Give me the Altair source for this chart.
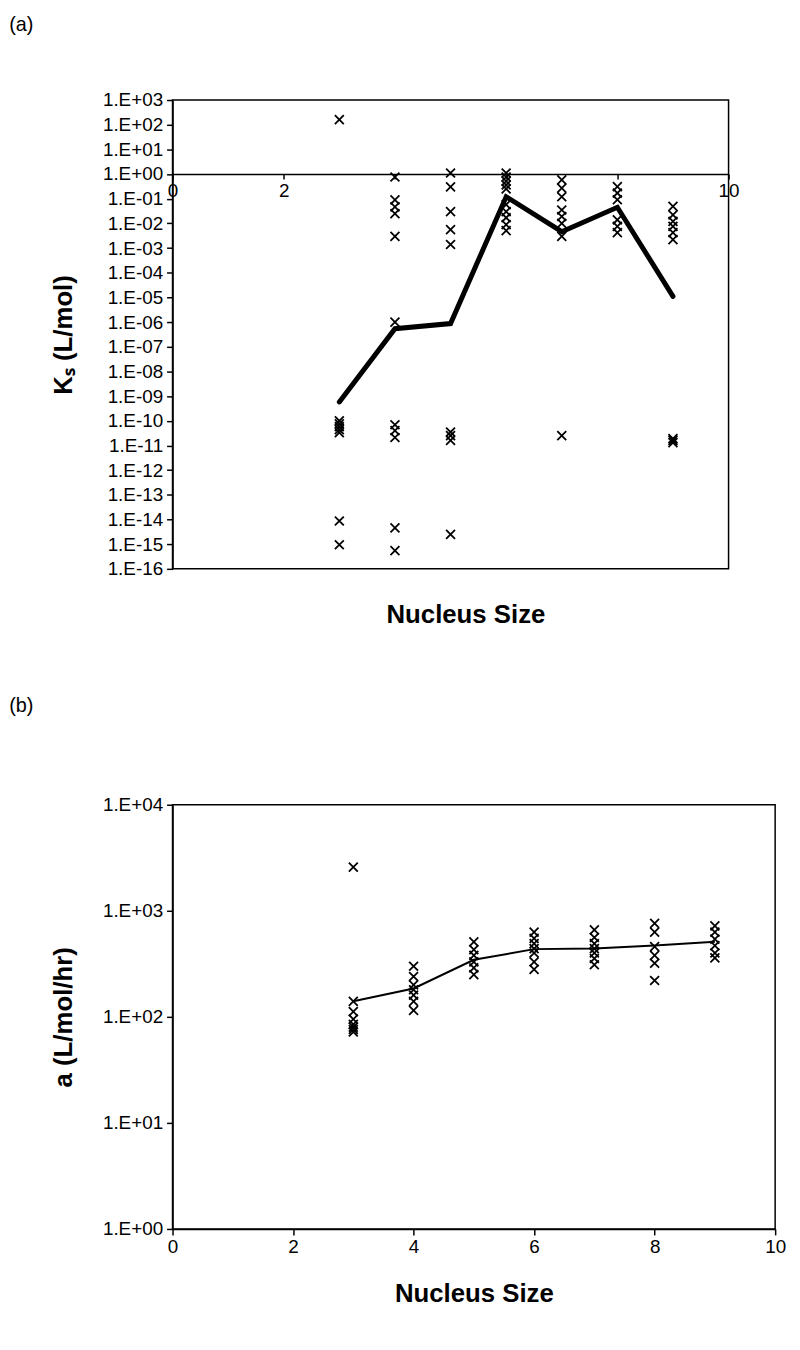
import math
import altair as alt
import pandas as pd

FONT = "Liberation Sans"
X_SHAPE = "M-1,-1L1,1M-1,1L1,-1"

# ---------------- panel (a): Ks (L/mol) vs nucleus size ----------------
ks_size = [3, 3, 3, 3, 3, 3, 3, 3,
           4, 4, 4, 4, 4, 4, 4, 4, 4, 4, 4,
           5, 5, 5, 5, 5, 5, 5, 5, 5,
           6, 6, 6, 6, 6, 6, 6, 6, 6, 6,
           7, 7, 7, 7, 7, 7, 7, 7,
           8, 8, 8, 8, 8, 8,
           9, 9, 9, 9, 9, 9, 9, 9, 9]
ks_value = [1.6e2, 1.0e-10, 7.6e-11, 5.8e-11, 4.4e-11, 3.3e-11, 8.7e-15, 9.5e-16,
            7.6e-1, 9.0e-2, 4.7e-2, 2.5e-2, 3.0e-3, 1.0e-6, 6.9e-11, 4.0e-11, 2.1e-11, 4.6e-15, 5.5e-16,
            1.1e0, 3.0e-1, 3.0e-2, 5.6e-3, 1.4e-3, 3.5e-11, 2.5e-11, 1.6e-11, 2.5e-15,
            1.1e0, 7.6e-1, 5.2e-1, 3.6e-1, 2.5e-1, 5.8e-2, 3.0e-2, 1.7e-2, 8.9e-3, 5.1e-3,
            5.8e-1, 2.7e-1, 1.2e-1, 3.5e-2, 1.9e-2, 1.0e-2, 3.0e-3, 2.5e-11,
            3.1e-1, 1.7e-1, 9.1e-2, 1.4e-2, 7.6e-3, 4.2e-3,
            4.9e-2, 2.2e-2, 1.2e-2, 7.6e-3, 4.2e-3, 2.2e-3, 1.9e-11, 1.6e-11, 1.3e-11]
ks_line_size = [3, 4, 5, 6, 7, 8, 9]
ks_line_value = [5.8e-10, 5.4e-7, 8.7e-7, 1.2e-1, 4.6e-3, 4.5e-2, 1.1e-5]
ks_ticks = [1e3, 1e2, 1e1, 1e0, 1e-1, 1e-2, 1e-3, 1e-4, 1e-5, 1e-6, 1e-7, 1e-8,
            1e-9, 1e-10, 1e-11, 1e-12, 1e-13, 1e-14, 1e-15, 1e-16]
ks_domain = [1e-16, 1e3]

# ---------------- panel (b): a (L/mol/hr) vs nucleus size ----------------
a_size = [3, 3, 3, 3, 3, 3, 3, 3,
          4, 4, 4, 4, 4, 4, 4,
          5, 5, 5, 5, 5, 5,
          6, 6, 6, 6, 6, 6, 6,
          7, 7, 7, 7, 7, 7, 7,
          8, 8, 8, 8, 8, 8,
          9, 9, 9, 9, 9, 9]
a_value = [2580, 140, 112, 95, 85, 80, 76, 72,
           300, 240, 200, 180, 160, 140, 115,
           510, 430, 380, 330, 290, 250,
           630, 550, 490, 440, 400, 330, 280,
           660, 560, 490, 440, 400, 355, 310,
           760, 630, 460, 380, 320, 220,
           720, 630, 540, 470, 400, 360]
a_line_size = [3, 4, 5, 6, 7, 8, 9]
a_line_value = [140, 185, 345, 435, 440, 470, 510]
a_ticks = [1e4, 1e3, 1e2, 1e1, 1e0]
a_domain = [1e0, 1e4]

x_ticks = [0, 2, 4, 6, 8, 10]

LOG_LABEL = ("'1.E' + (round(log(datum.value) / LN10) < 0 ? '-' : '+') + "
             "pad(toString(abs(round(log(datum.value) / LN10))), 2, '0', 'left')")

W_A, H_A = 561, 473
W_B, H_B = 608, 428

# offset that moves panel (a)'s x axis up to y = 1
frac_one = (math.log10(ks_domain[1]) - 0.0) / (math.log10(ks_domain[1]) - math.log10(ks_domain[0]))
OFF_A = -(H_A - H_A * frac_one)

df_a_pts = pd.DataFrame({"size": ks_size, "value": ks_value})
df_a_line = pd.DataFrame({"size": ks_line_size, "value": ks_line_value})
df_b_pts = pd.DataFrame({"size": a_size, "value": a_value})
df_b_line = pd.DataFrame({"size": a_line_size, "value": a_line_value})

x_scale_a = alt.Scale(domain=[0, 10], nice=False, zero=False)
y_scale_a = alt.Scale(type="log", domain=ks_domain, nice=False)
x_scale_b = alt.Scale(domain=[0, 10], nice=False, zero=False)
y_scale_b = alt.Scale(type="log", domain=a_domain, nice=False)


def y_axis(ticks, title):
    return alt.Axis(values=ticks, labelExpr=LOG_LABEL, title=title, tickSize=6,
                    labelPadding=4, titlePadding=26)


y_a = alt.Y("value:Q", scale=y_scale_a, axis=y_axis(ks_ticks, "Kₛ (L/mol)"))
y_b = alt.Y("value:Q", scale=y_scale_b, axis=y_axis(a_ticks, "a (L/mol/hr)"))

pts_a = alt.Chart(df_a_pts).mark_point(
    shape=X_SHAPE, size=81, filled=False, color="black", strokeWidth=1.8, opacity=1
).encode(
    x=alt.X("size:Q", scale=x_scale_a,
            axis=alt.Axis(orient="bottom", values=x_ticks, offset=OFF_A, title=None,
                          tickSize=5, labelPadding=3,
                          labelExpr="datum.value == 0 || datum.value == 2 || datum.value == 10 ? datum.label : ''")),
    y=y_a,
)
line_a = alt.Chart(df_a_line).mark_line(
    color="black", strokeWidth=5, strokeCap="round"
).encode(
    x=alt.X("size:Q", scale=x_scale_a,
            axis=alt.Axis(orient="bottom", title="Nucleus Size", labels=False, ticks=False,
                          domain=False, titlePadding=33, titleX=W_A / 2 + 15)),
    y=y_a,
)
panel_a = alt.layer(pts_a, line_a).resolve_axis(x="independent").properties(
    width=W_A, height=H_A,
    title=alt.TitleParams("(a)", anchor="start", frame="bounds", dx=-42, offset=37,
                          baseline="bottom", fontSize=20, fontWeight="normal", font=FONT, color="black"),
)

pts_b = alt.Chart(df_b_pts).mark_point(
    shape=X_SHAPE, size=81, filled=False, color="black", strokeWidth=1.8, opacity=1
).encode(
    x=alt.X("size:Q", scale=x_scale_b,
            axis=alt.Axis(values=x_ticks, format="d", title="Nucleus Size", tickSize=6,
                          labelPadding=3, titlePadding=24)),
    y=y_b,
)
line_b = alt.Chart(df_b_line).mark_line(color="black", strokeWidth=2).encode(
    x=alt.X("size:Q", scale=x_scale_b),
    y=y_b,
)
panel_b = alt.layer(pts_b, line_b).properties(
    width=W_B, height=H_B,
    title=alt.TitleParams("(b)", anchor="start", frame="bounds", dx=-42, offset=61,
                          baseline="bottom", fontSize=20, fontWeight="normal", font=FONT, color="black"),
)

chart = alt.vconcat(panel_a, panel_b, spacing=67).properties(
    padding={"left": 0, "top": 0, "right": 5, "bottom": 5}
).configure_view(
    stroke="black", strokeWidth=1.5
).configure_axis(
    labelFont=FONT, titleFont=FONT, labelColor="black", titleColor="black",
    tickColor="black", domainColor="black", labelFontSize=19, titleFontSize=26,
    titleFontWeight="bold", grid=False, tickWidth=1.5, domainWidth=1.5,
    labelOverlap=False, labelFlush=False,
)

chart.save("out.html", embed_options={"renderer": "svg", "actions": False})
